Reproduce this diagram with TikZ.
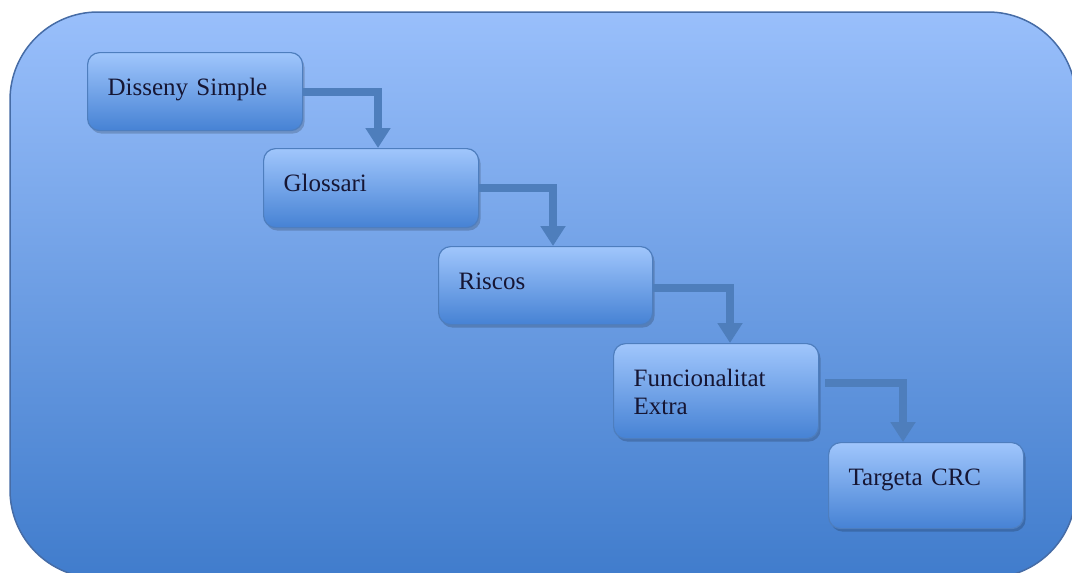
\documentclass[tikz,border=0pt]{standalone}
\usepackage{fontspec}
\setmainfont{Liberation Serif}
\usetikzlibrary{arrows.meta,shadows}

\definecolor{panelTop}{RGB}{153,191,251}
\definecolor{panelBot}{RGB}{64,124,204}
\definecolor{panelLine}{RGB}{70,108,166}
\definecolor{boxTop}{RGB}{160,198,252}
\definecolor{boxBot}{RGB}{70,130,212}
\definecolor{boxLine}{RGB}{78,126,190}
\definecolor{flowBlue}{RGB}{78,126,188}
\definecolor{ink}{RGB}{22,22,52}

\tikzset{
  stage/.style={
    rectangle, rounded corners=12pt, draw=boxLine, line width=1.2pt,
    top color=boxTop, bottom color=boxBot,
    drop shadow={shadow xshift=2pt, shadow yshift=-3pt, opacity=0.18, fill=black},
    anchor=north west, align=left,
    inner xsep=20pt, inner ysep=0pt, text height=43pt,
    font=\fontsize{25}{28}\selectfont, text=ink},
  flow/.style={draw=flowBlue, line width=8pt,
    -{Triangle[width=24pt,length=20pt]}}
}

\begin{document}
\begin{tikzpicture}[x=1pt,y=-1pt]
  \useasboundingbox (0,0) rectangle (1072,573);
  \fill[white] (0,0) rectangle (1072,573);
  \clip (0,0) rectangle (1072,573);

  % background panel
  \shade[top color=panelTop, bottom color=panelBot, draw=panelLine,
         line width=1.5pt, rounded corners=88pt]
    (10,12) rectangle (1076,578);

  % process stages
  \node[stage, text width=175pt, text depth=35pt] (b1) at (87,52)  {Disseny Simple};
  \node[stage, text width=175pt, text depth=36pt] (b2) at (263,148) {Glossari};
  \node[stage, text width=174pt, text depth=35pt] (b3) at (438,246) {Riscos};
  \node[stage, text width=165pt, text depth=52pt] (b4) at (613,343) {Funcionalitat\\Extra};
  \node[stage, text width=155pt, text depth=43pt] (b5) at (828,442) {Targeta CRC};

  % connectors
  \draw[flow] (b1.east) -| ([xshift=115pt]b2.north west);
  \draw[flow] (b2.east) -| ([xshift=115pt]b3.north west);
  \draw[flow] ([yshift=-2pt]b3.east) -| ([xshift=117pt]b4.north west);
  \draw[flow] ([shift={(6pt,8pt)}]b4.east) -| ([xshift=75pt]b5.north west);
\end{tikzpicture}
\end{document}
